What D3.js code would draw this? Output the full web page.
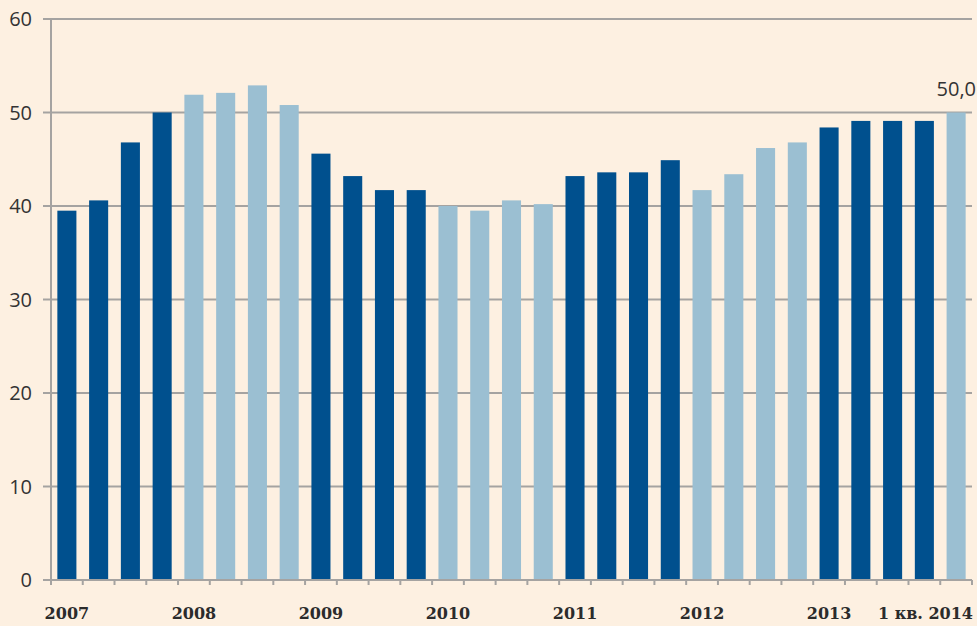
<!DOCTYPE html>
<html>
<head>
<meta charset="utf-8">
<script src="https://cdn.jsdelivr.net/npm/d3@7"></script>
<style>
  html, body { margin: 0; padding: 0; background: #fdf0e1; }
  svg { display: block; }
</style>
</head>
<body>
<svg id="chart" width="977" height="626"></svg>
<script>
// quarterly values, 2007 Q1 .. 2014 Q1
var values = [39.5, 40.6, 46.8, 50.0,
              51.9, 52.1, 52.9, 50.8,
              45.6, 43.2, 41.7, 41.7,
              40.0, 39.5, 40.6, 40.2,
              43.2, 43.6, 43.6, 44.9,
              41.7, 43.4, 46.2, 46.8,
              48.4, 49.1, 49.1, 49.1,
              50.0];
var years = ["2007", "2008", "2009", "2010", "2011", "2012", "2013"];
var lastLabel = "1 кв. 2014";
var lastValueLabel = "50,0";
var yTicks = [0, 10, 20, 30, 40, 50, 60];

(function () {
  var dark = "#00508e", light = "#9bbfd2", grid = "#a5a3a1";

  var svg = d3.select("#chart");
  var mLeft = 51, mRight = 972, mTop = 19, mBottom = 580;

  var x = d3.scaleBand()
    .domain(d3.range(values.length))
    .range([mLeft, mRight])
    .paddingInner(0.4)
    .paddingOuter(0.2);

  var y = d3.scaleLinear().domain([0, 60]).range([mBottom, mTop]);

  // gridlines + y labels
  var yAxis = svg.append("g");
  yAxis.selectAll("line.grid")
    .data(yTicks.filter(function (d) { return d > 0; }))
    .enter().append("line")
    .attr("x1", 43).attr("x2", mRight)
    .attr("y1", function (d) { return y(d); })
    .attr("y2", function (d) { return y(d); })
    .attr("stroke", grid).attr("stroke-width", 2);

  yAxis.selectAll("text")
    .data(yTicks)
    .enter().append("text")
    .attr("x", 32)
    .attr("y", function (d) { return y(d) + 7; })
    .attr("text-anchor", "end")
    .attr("font-family", "'Open Sans', 'Noto Sans', sans-serif")
    .attr("font-size", 20)
    .attr("fill", "#333")
    .text(function (d) { return d; });

  // bars
  svg.append("g").selectAll("rect")
    .data(values)
    .enter().append("rect")
    .attr("x", function (d, i) { return x(i); })
    .attr("width", x.bandwidth())
    .attr("y", function (d) { return y(d); })
    .attr("height", function (d) { return y(0) - y(d); })
    .attr("fill", function (d, i) { return Math.floor(i / 4) % 2 === 0 ? dark : light; });

  // left axis line
  svg.append("line")
    .attr("x1", mLeft).attr("x2", mLeft)
    .attr("y1", mTop).attr("y2", mBottom + 5)
    .attr("stroke", grid).attr("stroke-width", 2);

  // bottom axis with ticks at band edges
  svg.append("line")
    .attr("x1", 43).attr("x2", mRight)
    .attr("y1", mBottom).attr("y2", mBottom)
    .attr("stroke", grid).attr("stroke-width", 2);

  svg.append("g").selectAll("line")
    .data(d3.range(values.length + 1))
    .enter().append("line")
    .attr("x1", function (i) { return mLeft + i * (mRight - mLeft) / values.length; })
    .attr("x2", function (i) { return mLeft + i * (mRight - mLeft) / values.length; })
    .attr("y1", mBottom).attr("y2", mBottom + 5)
    .attr("stroke", grid).attr("stroke-width", 2);

  // year labels
  var labelFont = "'DejaVu Serif', 'Liberation Serif', serif";
  svg.append("g").selectAll("text")
    .data(years)
    .enter().append("text")
    .attr("x", function (d, i) { return x(i * 4) + x.bandwidth() / 2; })
    .attr("y", 619)
    .attr("text-anchor", "middle")
    .attr("font-family", labelFont)
    .attr("font-weight", "bold")
    .attr("font-size", 16)
    .attr("fill", "#2b2b2b")
    .text(function (d) { return d; });

  svg.append("text")
    .attr("x", 973)
    .attr("y", 619)
    .attr("text-anchor", "end")
    .attr("font-family", labelFont)
    .attr("font-weight", "bold")
    .attr("font-size", 16)
    .attr("fill", "#2b2b2b")
    .text(lastLabel);

  // value label above the last bar
  var last = values.length - 1;
  svg.append("text")
    .attr("x", 976)
    .attr("y", y(values[last]) - 17)
    .attr("text-anchor", "end")
    .attr("font-family", "'Open Sans', 'Noto Sans', sans-serif")
    .attr("font-size", 20)
    .attr("fill", "#333")
    .text(lastValueLabel);
})();
</script>
</body>
</html>
